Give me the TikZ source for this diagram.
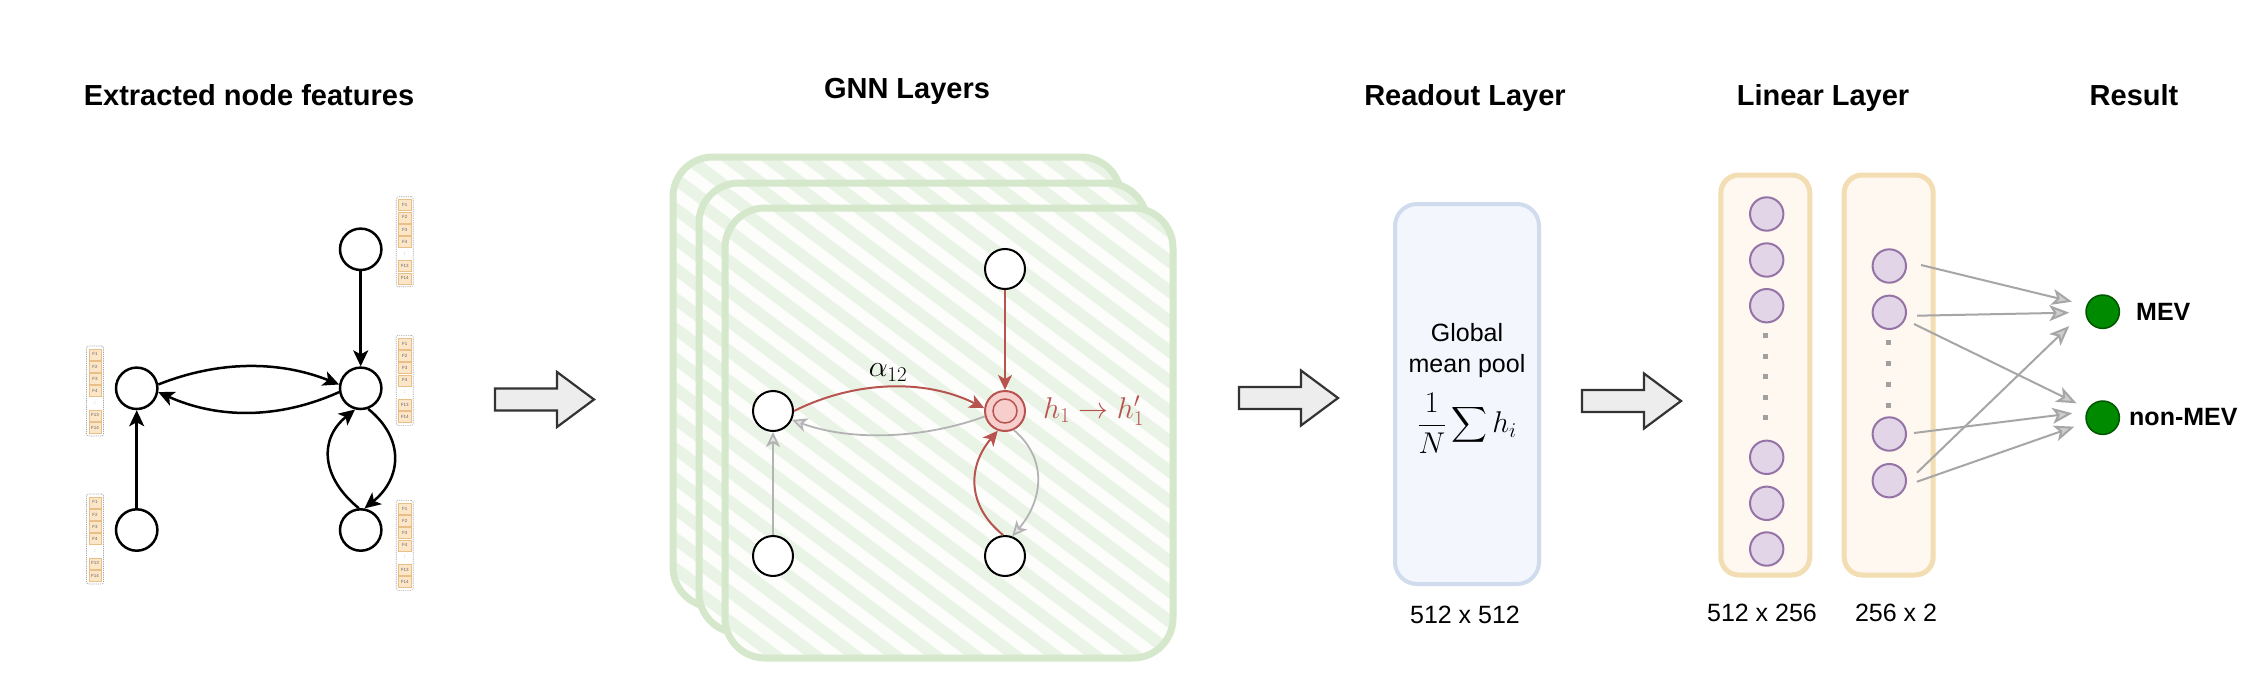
\RequirePackage{fix-cm}
\documentclass[tikz,border=0pt]{standalone}
\usepackage{exscale}
\usepackage{fontspec}
\setmainfont{Liberation Sans}
\usetikzlibrary{arrows.meta}
\definecolor{redE}{HTML}{B85450}
\definecolor{redF}{HTML}{F8CECC}
\definecolor{grayE}{HTML}{B3B3B3}
\definecolor{greenB}{HTML}{D5E8CC}
\definecolor{greenS}{HTML}{EAF4E6}
\definecolor{greenG}{HTML}{FDFEFC}
\definecolor{blueS}{HTML}{D0DCEE}
\definecolor{blueF}{HTML}{F3F7FD}
\definecolor{orS}{HTML}{F3DDB2}
\definecolor{orF}{HTML}{FEF8F1}
\definecolor{purF}{HTML}{E1D5E7}
\definecolor{purS}{HTML}{9673A6}
\definecolor{resF}{HTML}{008A00}
\definecolor{resS}{HTML}{005700}
\definecolor{cellF}{HTML}{FDE6C8}
\definecolor{cellS}{HTML}{E9BF88}
\definecolor{arrF}{HTML}{EDEDED}
\definecolor{arrS}{HTML}{333333}
\definecolor{outE}{HTML}{A6A6A6}
\definecolor{dotC}{HTML}{A0A0A0}

\tikzset{
  ttl/.style={font=\fontsize{29}{34}\selectfont\bfseries, anchor=base, inner sep=0pt},
  body/.style={font=\fontsize{25}{30}\selectfont, anchor=base, inner sep=0pt},
  mth/.style={font=\fontsize{30}{36}\selectfont, inner sep=0pt},
  gnode/.style={circle, draw=black, line width=2.5pt, minimum size=41.4pt, inner sep=0pt, fill=white},
  hnode/.style={circle, draw=black, line width=2pt, minimum size=40pt, inner sep=0pt, fill=white},
  blk/.style={-{Stealth[length=16pt,width=15pt,inset=4pt]}, line width=2.5pt, draw=black},
  redA/.style={-{Stealth[length=15pt,width=14pt,inset=4pt]}, line width=2pt, draw=redE},
  grayA/.style={-{Stealth[length=15pt,width=14pt,inset=4pt,fill=grayE!35]}, line width=1.8pt, draw=grayE},
  outA/.style={-{Stealth[length=20pt,width=16pt,inset=5pt,fill=outE!55]}, line width=2pt, draw=outE},
  pnode/.style={circle, draw=purS, fill=purF, line width=2pt, minimum size=33.4pt, inner sep=0pt},
  rnode/.style={circle, draw=resS, fill=resF, line width=1.5pt, minimum size=33.4pt, inner sep=0pt},
  dotsq/.style={rectangle, fill=dotC, minimum size=5pt, inner sep=0pt},
  linbox/.style={rectangle, draw=orS, fill=orF, line width=5pt, rounded corners=18pt, minimum width=89pt, minimum height=400pt},
  fbox/.style={rectangle, draw=gray!70, dashed, dash pattern=on 1.2pt off 1pt, line width=0.6pt, rounded corners=2pt, minimum width=17pt, minimum height=90pt, inner sep=0pt},
  fcell/.style={rectangle, fill=cellF, draw=cellS, line width=0.5pt, minimum width=12.4pt, minimum height=11pt, inner sep=0pt, font=\fontsize{4.5}{5}\selectfont, text=black!60},
  fdot/.style={inner sep=0pt, font=\fontsize{5}{5}\selectfont, text=black!60},
  blockarr/.style={draw=arrS, fill=arrF, line width=2.2pt, line join=miter},
}

\newcommand\bigarr[2]{\draw[blockarr] (#1,#2-11) -- ++(62,0) -- ++(0,-16.5) -- ++(37,27.5) -- ++(-37,27.5) -- ++(0,-16.5) -- ++(-62,0) -- cycle;}

\newcommand\featbox[3]{%
  \node[fbox] (#1) at (#2,#3) {};
  \foreach \k/\t in {0/F1,1/F2,2/F3,3/F4,5/F13,6/F14}
    \node[fcell] (#1c\k) at (#2,#3-36.6+12.2*\k) {\t};
  \node[fdot] (#1d) at (#2,#3+12.2) {:};
}

\newcommand\gnnbox[2]{%
  \begin{scope}
    \clip[rounded corners=40pt] (#1,#2) rectangle ++(448,450);
    \fill[greenG] (#1,#2) rectangle ++(448,450);
    \foreach \i in {-17,...,12}
      \draw[greenS, line width=12pt] (#1+\i*40,#2-10) -- ++(800,600);
  \end{scope}
  \draw[greenB, line width=7pt, rounded corners=40pt] (#1,#2) rectangle ++(448,450);
}

\begin{document}
\begin{tikzpicture}[x=1pt,y=-1pt]
\useasboundingbox (0,0) rectangle (2268,685);
\fill[white] (0,0) rectangle (2268,685);

% titles
\node[ttl] (t1) at (249,105) {Extracted node features};
\node[ttl] (t2) at (907,99) {GNN Layers};
\node[ttl] (t3) at (1465,105) {Readout Layer};
\node[ttl] (t4) at (1823,105) {Linear Layer};
\node[ttl] (t5) at (2134,105) {Result};

% ---------- input graph ----------
\node[gnode] (A) at (136.7,530) {};
\node[gnode] (B) at (136.7,388.3) {};
\node[gnode] (C) at (360.7,249.3) {};
\node[gnode] (D) at (360.7,388.3) {};
\node[gnode] (E) at (360.7,530) {};
\draw[blk] (A) -- (B);
\draw[blk] (C) -- (D);
\draw[blk] (B.10) .. controls +(60,-24) and +(-60,-24) .. (D.170);
\draw[blk] (D.190) .. controls +(-60,27) and +(60,27) .. (B.350);
\draw[blk] (E.95) .. controls +(-37,-30) and +(-37,30) .. (D.255);
\draw[blk] (D.290) .. controls +(37,30) and +(37,-30) .. (E.80);

\featbox{fb1}{95}{391}
\featbox{fb2}{95}{539}
\featbox{fb3}{404.7}{241.7}
\featbox{fb4}{404.7}{380.3}
\featbox{fb5}{404.7}{545.3}

\bigarr{495}{399.5}

% ---------- GNN layers ----------
\gnnbox{673}{157}
\gnnbox{699}{183}
\gnnbox{725}{208}

\node[hnode] (gt) at (1005,269) {};
\node[hnode] (gl) at (773,411) {};
\node[hnode, draw=redE, fill=redF] (gc) at (1005,411) {};
\node[circle, draw=redE, line width=1.5pt, minimum size=24pt, inner sep=0pt] (gci) at (gc) {};
\node[hnode] (gbl) at (773,556) {};
\node[hnode] (gbr) at (1005,556) {};

\draw[redA] (gt) -- (gc);
\draw[redA] (gl.0) .. controls +(60,-30) and +(-60,-30) .. (gc.172);
\draw[grayA] (gc.195) .. controls +(-60,22) and +(60,22) .. (gl.335);
\draw[grayA] (gbl) -- (gl);
\draw[redA] (gbr.95) .. controls +(-37,-30) and +(-30,35) .. (gc.250);
\draw[grayA] (gc.295) .. controls +(35,30) and +(30,-35) .. (gbr.70);

\node[mth, anchor=base] (a12) at (888,376.7) {$\alpha_{12}$};
\node[mth, anchor=base west, text=redE] (hl) at (1043,418.3) {$h_1 \to h_1'$};

\bigarr{1239}{398}

% ---------- readout ----------
\node[draw=blueS, fill=blueF, line width=4pt, rounded corners=22pt, minimum width=144pt, minimum height=380pt] (ro) at (1467,394) {};
\node[body] (g1) at (1467,341.7) {Global};
\node[body] (g2) at (1467,372.7) {mean pool};
\node[mth] (g3) at (1467,423) {$\displaystyle\frac{1}{N}\sum h_i$};
\node[body] (d1) at (1465,623) {512 x 512};

\bigarr{1582}{401}

% ---------- linear layers ----------
\node[linbox] (lb1) at (1765.3,375) {};
\node[linbox] (lb2) at (1888.7,375) {};
\foreach \n/\y in {a/214,b/260,c/305.7,d/457.3,e/503.3,f/549}
  \node[pnode] (p1\n) at (1766.7,\y) {};
\foreach \n/\y in {a/335.7,b/356.7,c/376.7,d/397.3,e/417.7}
  \node[dotsq] (q1\n) at (1765,\y) {};
\foreach \n/\y in {a/266,b/312.3,c/434,d/480.7}
  \node[pnode] (p2\n) at (1889.3,\y) {};
\foreach \n/\y in {a/342.7,b/363.3,c/384,d/405}
  \node[dotsq] (q2\n) at (1888.7,\y) {};
\node[body] (d2) at (1762,621.7) {512 x 256};
\node[body] (d3) at (1896,621.7) {256 x 2};

% ---------- result ----------
\node[rnode] (mev) at (2102.7,311.7) {};
\node[rnode] (nmev) at (2102.7,417.7) {};
\node[body, font=\fontsize{25}{30}\selectfont\bfseries, anchor=base west] (mevl) at (2136,320) {MEV};
\node[body, font=\fontsize{25}{30}\selectfont\bfseries, anchor=base west] (nmevl) at (2129,425.7) {non-MEV};

\draw[outA] ([shift={(14,-1)}]p2a.east) -- ([shift={(-13.3,-10)}]mev.west);
\draw[outA] ([shift={(10,3.4)}]p2b.east) -- ([shift={(-16,1)}]mev.west);
\draw[outA] ([shift={(7,11.7)}]p2b.east) -- ([shift={(-8.7,-14.4)}]nmev.west);
\draw[outA] ([shift={(7,-1)}]p2c.east) -- ([shift={(-13,-4.4)}]nmev.west);
\draw[outA] ([shift={(10,-8)}]p2d.east) -- ([shift={(-16,14.3)}]mev.west);
\draw[outA] ([shift={(10,1)}]p2d.east) -- ([shift={(-11,9)}]nmev.west);
\end{tikzpicture}
\end{document}
